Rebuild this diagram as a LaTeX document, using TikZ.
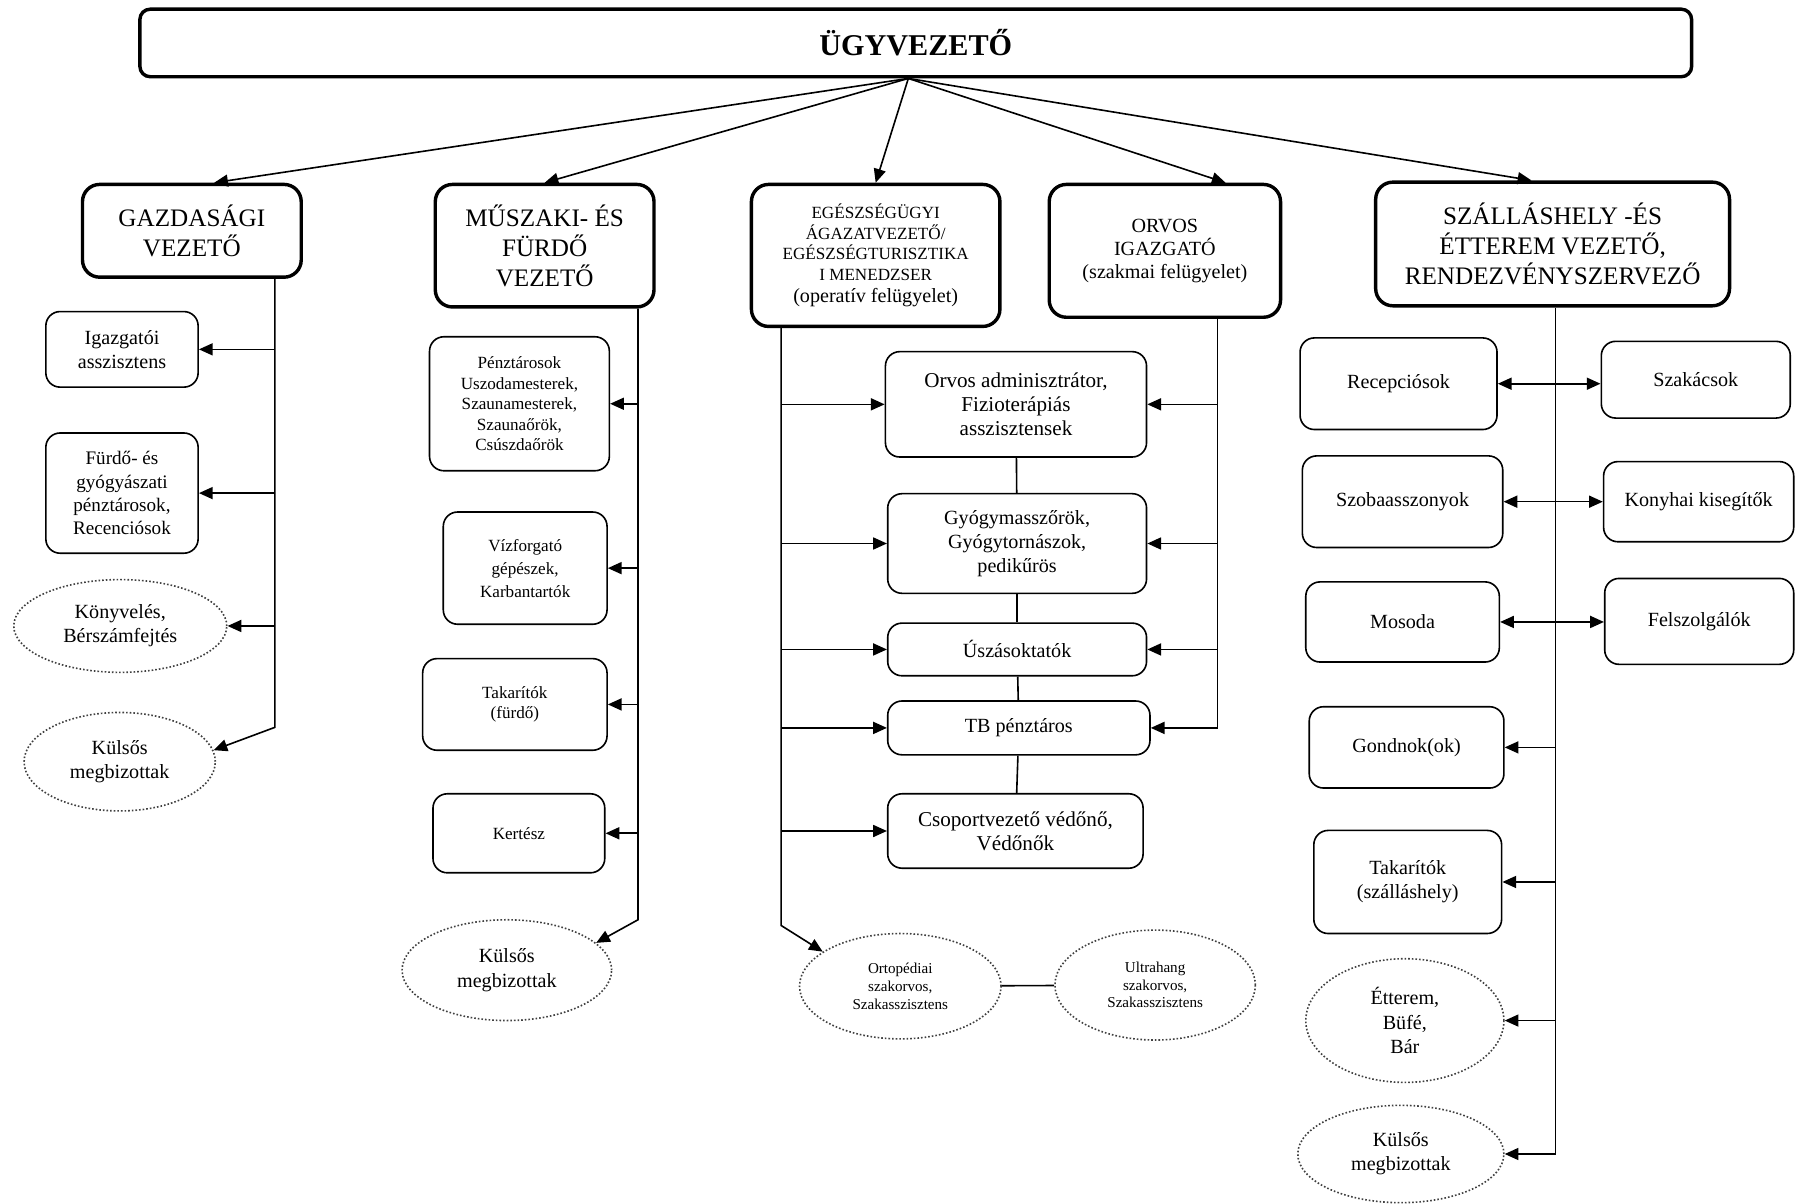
\documentclass[tikz,border=0pt]{standalone}
\usepackage{fontspec}
\setmainfont{Liberation Serif}
\usetikzlibrary{arrows.meta,shapes.geometric}

\begin{document}
\begin{tikzpicture}[x=0.02cm,y=-0.02cm,line width=0.8pt,>={Triangle[length=0.24cm,width=0.21cm]},
	chief/.style={draw,line width=1.7pt,rounded corners=0.18cm,font=\bfseries\fontsize{15}{18}\selectfont},
	head/.style={draw,line width=1.7pt,rounded corners=0.3cm,align=center,font=\fontsize{12.5}{14.8}\selectfont},
	unit/.style={draw,rounded corners=0.25cm,align=center,font=\fontsize{10}{12}\selectfont},
	smalltext/.style={font=\fontsize{8.5}{10.2}\selectfont},
	extern/.style={draw=black!75,ellipse,densely dotted,inner sep=1pt,align=center,font=\fontsize{10}{12}\selectfont}]
\useasboundingbox (0,0) rectangle (1568,1051);

\node[chief,minimum width=27.1cm,minimum height=1.18cm] (ceo) at (799.5,37.5) {ÜGYVEZETŐ};
\coordinate (root) at ([xshift=-0.13cm]ceo.south);

\node[head,minimum width=3.82cm,minimum height=1.62cm] (gaz) at (167.5,201.5) {GAZDASÁGI\\VEZETŐ};
\node[head,minimum width=3.82cm,minimum height=2.14cm] (musz) at (475.5,214.5) {MŰSZAKI- ÉS\\FÜRDŐ\\VEZETŐ};
\node[head,minimum width=4.34cm,minimum height=2.48cm,font=\fontsize{8.5}{10.2}\selectfont] (egesz) at (764.5,223) {EGÉSZSÉGÜGYI\\ÁGAZATVEZETŐ/\\EGÉSZSÉGTURISZTIKA\\I MENEDZSER\\[1pt]{\fontsize{10}{12}\selectfont(operatív felügyelet)}};
\node[head,minimum width=4.04cm,minimum height=2.32cm,font=\fontsize{10}{11.4}\selectfont] (orvos) at (1017,219) {ORVOS\\IGAZGATÓ\\(szakmai felügyelet)};
\node[head,minimum width=6.18cm,minimum height=2.16cm] (szall) at (1355.5,213) {SZÁLLÁSHELY -ÉS\\ÉTTEREM VEZETŐ,\\RENDEZVÉNYSZERVEZŐ};

\draw[->] (root) -- ([xshift=0.39cm]gaz.north);
\draw[->] (root) -- (musz.north);
\draw[->] (root) -- (egesz.north);
\draw[->] (root) -- ([xshift=1.06cm]orvos.north);
\draw[->] (root) -- ([xshift=-0.37cm]szall.north);

% gazdasagi
\node[unit,minimum width=2.66cm,minimum height=1.32cm] (igaz) at (106.5,305) {Igazgatói\\asszisztens};
\node[unit,minimum width=2.66cm,minimum height=2.1cm,font=\fontsize{9.5}{11.5}\selectfont] (furdo) at (106.5,430.5) {Fürdő- és\\gyógyászati\\pénztárosok,\\Recenciósok};
\node[extern,minimum width=3.72cm,minimum height=1.62cm] (konyv) at (105,546.5) {Könyvelés,\\Bérszámfejtés};
\node[extern,minimum width=3.34cm,minimum height=1.72cm] (kulsos1) at (104.5,665) {Külsős\\megbizottak};
\coordinate (gs) at (240,635);
\draw[->] (gaz.south -| gs) -- (gs) -- (kulsos1.7);
\foreach \n in {igaz,furdo,konyv}
	\draw[->] (\n.east -| gs) -- (\n.east);

% muszaki
\node[unit,smalltext,minimum width=3.14cm,minimum height=2.34cm] (penz) at (453.5,352.5) {Pénztárosok\\Uszodamesterek,\\Szaunamesterek,\\Szaunaőrök,\\Csúszdaőrök};
\node[unit,minimum width=2.86cm,minimum height=1.96cm,font=\fontsize{8.5}{11.4}\selectfont] (vizf) at (458.5,496) {Vízforgató\\gépészek,\\Karbantartók};
\node[unit,smalltext,minimum width=3.22cm,minimum height=1.6cm] (takf) at (449.5,615) {Takarítók\\(fürdő)};
\node[unit,smalltext,minimum width=3cm,minimum height=1.38cm] (kert) at (453,727.5) {Kertész};
\node[extern,minimum width=3.66cm,minimum height=1.76cm] (kulsos2) at (442.5,847) {Külsős\\megbizottak};
\coordinate (ms) at (557,803);
\draw[->] (musz.south -| ms) -- (ms) -- (kulsos2.17);
\foreach \n in {penz,vizf,takf,kert}
	\draw[->] (\n.east -| ms) -- (\n.east);

% egeszsegugy
\node[unit,minimum width=4.56cm,minimum height=1.84cm,font=\fontsize{10.5}{12}\selectfont] (oadm) at (887,353) {Orvos adminisztrátor,\\Fizioterápiás\\asszisztensek};
\node[unit,minimum width=4.52cm,minimum height=1.74cm] (gyogy) at (888,474.5) {Gyógymasszőrök,\\Gyógytornászok,\\pedikűrös};
\node[unit,minimum width=4.52cm,minimum height=0.92cm] (uszas) at (888,567) {Úszásoktatók};
\node[unit,minimum width=4.58cm,minimum height=0.94cm] (tb) at (889.5,635.5) {TB pénztáros};
\node[unit,minimum width=4.46cm,minimum height=1.3cm,font=\fontsize{10.5}{12}\selectfont] (csop) at (886.5,725.5) {Csoportvezető védőnő,\\Védőnők};
\node[extern,minimum width=3.52cm,minimum height=1.84cm,font=\fontsize{7.5}{8.8}\selectfont] (orto) at (786,861) {Ortopédiai\\szakorvos,\\Szakasszisztens};
\node[extern,minimum width=3.5cm,minimum height=1.92cm,font=\fontsize{7.5}{8.8}\selectfont] (ultra) at (1008.5,860) {Ultrahang\\szakorvos,\\Szakasszisztens};
\coordinate (es) at (682,808);
\draw[->] (egesz.south -| es) -- (es) -- (orto.156);
\foreach \n in {oadm,gyogy,uszas,tb,csop}
	\draw[->] (\n.west -| es) -- (\n.west);
\foreach \a/\b in {oadm/gyogy,gyogy/uszas,uszas/tb,tb/csop}
	\draw (\a) -- (\b);
\draw (orto) -- (ultra);
\coordinate (os) at (1063,0);
\draw[->] (orvos.south -| os) -- (tb.east -| os) -- (tb.east);
\foreach \n in {oadm,gyogy,uszas}
	\draw[->] (\n.east -| os) -- (\n.east);

% szallashely
\node[unit,minimum width=3.44cm,minimum height=1.6cm] (recep) at (1221,335) {Recepciósok};
\node[unit,minimum width=3.3cm,minimum height=1.34cm] (szakacs) at (1480.5,331.5) {Szakácsok};
\node[unit,minimum width=3.5cm,minimum height=1.6cm] (szoba) at (1224.5,438) {Szobaasszonyok};
\node[unit,minimum width=3.32cm,minimum height=1.4cm] (konyha) at (1483,438) {Konyhai kisegítők};
\node[unit,minimum width=3.38cm,minimum height=1.4cm] (mosoda) at (1224.5,543) {Mosoda};
\node[unit,minimum width=3.3cm,minimum height=1.5cm] (felsz) at (1483.5,542.5) {Felszolgálók};
\node[unit,minimum width=3.4cm,minimum height=1.42cm] (gond) at (1228,652.5) {Gondnok(ok)};
\node[unit,minimum width=3.28cm,minimum height=1.8cm] (taksz) at (1229,770) {Takarítók\\(szálláshely)};
\node[extern,minimum width=3.46cm,minimum height=2.16cm] (etterem) at (1226.5,891) {Étterem,\\Büfé,\\Bár};
\node[extern,minimum width=3.6cm,minimum height=1.7cm] (kulsos3) at (1223,1007.5) {Külsős\\megbizottak};
\coordinate (ss) at (1358,0);
\draw[->] (szall.south -| ss) -- (kulsos3.east -| ss) -- (kulsos3.east);
\foreach \n in {gond,taksz,etterem}
	\draw[->] (\n.east -| ss) -- (\n.east);
\foreach \a/\b in {recep/szakacs,szoba/konyha,mosoda/felsz}
	\draw[<->] (\a.east) -- (\a.east -| \b.west);
\end{tikzpicture}
\end{document}
